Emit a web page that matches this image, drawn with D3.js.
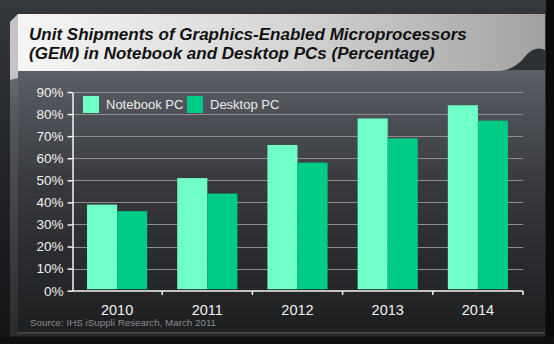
<!DOCTYPE html>
<html><head><meta charset="utf-8">
<script src="https://cdn.jsdelivr.net/npm/d3@7"></script>
<style>html,body{margin:0;padding:0;background:#151617;overflow:hidden}svg{display:block}</style>
</head><body>
<svg id="c" width="554" height="344"></svg>
<script>
const years = ["2010","2011","2012","2013","2014"];
const seriesNames = ["Notebook PC","Desktop PC"];
const notebook = [39, 51, 66, 78, 84];
const desktop = [36, 44, 58, 69, 77];
const yTicks = [0,10,20,30,40,50,60,70,80,90];
const titleLines = ["Unit Shipments of Graphics-Enabled Microprocessors","(GEM) in Notebook and Desktop PCs (Percentage)"];
const source = "Source: IHS iSuppli Research, March 2011";
const colors = ["#70FFC8","#00CC88"];

const svg = d3.select("#c");
const defs = svg.append("defs");
function lg(id, stops, x2, y2){
  const g = defs.append("linearGradient").attr("id",id).attr("x1",0).attr("y1",0).attr("x2",x2).attr("y2",y2);
  stops.forEach(s=>g.append("stop").attr("offset",s[0]).attr("stop-color",s[1]));
}
lg("bg",[[0,"#34373c"],[0.5,"#222427"],[1,"#121314"]],0,1);
lg("panel",[[0,"#5b5f66"],[0.45,"#36383c"],[1,"#1d1e20"]],0,1);
lg("banner",[[0,"#f6f6f6"],[0.5,"#d6d6d6"],[1,"#a2a2a2"]],1,0);
lg("bevL",[[0,"#8a8d92"],[0.3,"#55585d"],[1,"#2a2b2d"]],0,1);
lg("bevB",[[0,"#3c3d40"],[1,"#1e1f21"]],0,1);

svg.append("rect").attr("width",554).attr("height",344).attr("fill","url(#bg)");
svg.append("rect").attr("x",546).attr("y",0).attr("width",8).attr("height",344).attr("fill","#0a0a0a");
svg.append("rect").attr("x",0).attr("y",337).attr("width",554).attr("height",7).attr("fill","#101011");

// left bevel & bottom bevel
svg.append("path").attr("d","M10,22 L18,14 L18,332 L10,337 Z").attr("fill","url(#bevL)");
svg.append("path").attr("d","M10,337 L18,332 L545,332 L545,337 Z").attr("fill","url(#bevB)");
// panel
svg.append("rect").attr("x",18).attr("y",70).attr("width",527).attr("height",262).attr("fill","url(#panel)");
svg.append("line").attr("x1",18).attr("x2",545).attr("y1",332.5).attr("y2",332.5).attr("stroke","#48494c");
// banner
svg.append("path").attr("d","M10,22 L18,14 L18,78 L10,80 Z").attr("fill","#c4c4c4");
svg.append("path").attr("d","M18,14 L545,14 L545,50 C537,46 530,50 523,59 C515,68 506,71 494,71 L18,71 Z").attr("fill","url(#banner)");

const tg = svg.append("g");
const titleEls = titleLines.map((t,i)=>tg.append("text").attr("x",29).attr("y",40+i*19)
  .attr("font-family","Liberation Sans, Arial, sans-serif").attr("font-weight","bold").attr("font-style","italic")
  .attr("font-size",17).attr("fill","#111").text(t));
const w0 = titleEls[0].node().getComputedTextLength();
const fs = 17*438/w0;
titleEls.forEach(e=>e.attr("font-size",fs));

// scales
const x = d3.scaleBand().domain(years).range([72,523]).paddingInner(1/3).paddingOuter(1/6);
const xs = d3.scaleBand().domain(seriesNames).range([0,x.bandwidth()]);
const y = d3.scaleLinear().domain([0,90]).range([290.7,92]);

// gridlines
svg.append("g").selectAll("line").data(yTicks.filter(d=>d>0)).join("line")
  .attr("x1",72).attr("x2",523).attr("y1",d=>Math.round(y(d))+0.5).attr("y2",d=>Math.round(y(d))+0.5)
  .attr("stroke","#8c8e91").attr("stroke-width",1);

// bars
const data = years.map((yr,i)=>({yr, vals:[notebook[i],desktop[i]]}));
const grp = svg.append("g").selectAll("g").data(data).join("g").attr("transform",d=>`translate(${x(d.yr)},0)`);
grp.selectAll("rect").data(d=>d.vals.map((v,j)=>({v,s:seriesNames[j],j}))).join("rect")
  .attr("x",d=>xs(d.s)).attr("width",xs.bandwidth())
  .attr("y",d=>y(d.v)).attr("height",d=>y(0)-1.5-y(d.v)).attr("fill",d=>colors[d.j]);

// axes
const yAxis = svg.append("g").attr("transform","translate(72.5,0)")
  .call(d3.axisLeft(y).tickValues(yTicks).tickFormat(d=>d+"%").tickSize(5).tickSizeOuter(0));
yAxis.select(".domain").attr("stroke","#f4f4f4").attr("stroke-width",1.5);
yAxis.selectAll(".tick line").attr("stroke","#f4f4f4").attr("stroke-width",1.5);
yAxis.selectAll(".tick text").attr("fill","#f2f2f2").attr("font-size",13.5)
  .attr("font-family","Liberation Sans, Arial, sans-serif").attr("x",-9);

const bounds = years.map(yr=>x(yr)-x.step()*x.paddingInner()/2).concat([523]);
const xAxis = svg.append("g").attr("transform","translate(0,291)");
xAxis.append("line").attr("x1",72).attr("x2",523).attr("stroke","#f4f4f4").attr("stroke-width",1.5);
xAxis.selectAll("line.t").data(bounds.slice(1)).join("line").attr("class","t")
  .attr("x1",d=>d).attr("x2",d=>d).attr("y1",0).attr("y2",4).attr("stroke","#f4f4f4").attr("stroke-width",1.5);
xAxis.selectAll("text").data(years).join("text").attr("x",d=>x(d)+x.bandwidth()/2).attr("y",24)
  .attr("text-anchor","middle").attr("fill","#f2f2f2").attr("font-size",14.5)
  .attr("font-family","Liberation Sans, Arial, sans-serif").text(d=>d);

// legend
const leg = svg.append("g").selectAll("g").data(seriesNames).join("g")
  .attr("transform",(d,i)=>`translate(${i?187:83},96)`);
leg.append("rect").attr("width",16).attr("height",17).attr("fill",(d,i)=>colors[i]);
leg.append("text").attr("x",23).attr("y",13).attr("fill","#ececec").attr("font-size",13)
  .attr("font-family","Liberation Sans, Arial, sans-serif").text(d=>d);

// source
svg.append("text").attr("x",30).attr("y",325.5).attr("fill","#8a8b8d").attr("font-size",9.8)
  .attr("font-family","Liberation Sans, Arial, sans-serif").text(source);
</script>
</body></html>
